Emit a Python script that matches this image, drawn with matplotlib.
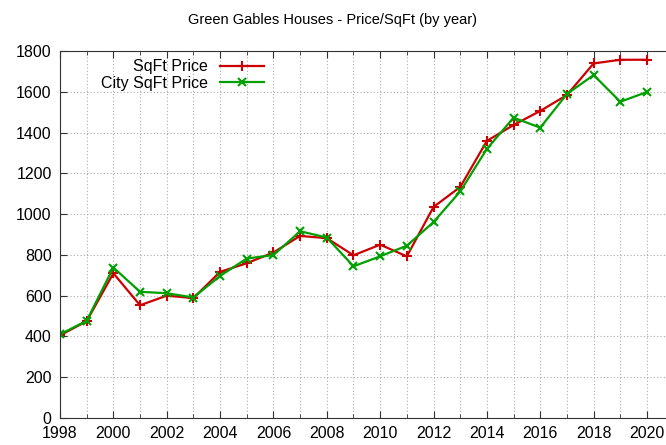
import matplotlib
matplotlib.use("Agg")
import matplotlib.pyplot as plt
from matplotlib.ticker import MultipleLocator

years = list(range(1998, 2021))
sqft_price = [405, 475, 710, 553, 600, 588, 717, 759, 812, 893, 882,
              798, 850, 793, 1035, 1133, 1359, 1437, 1506, 1584, 1739, 1757, 1757]
city_sqft_price = [410, 477, 738, 619, 612, 591, 697, 782, 799, 916, 885,
                   744, 793, 845, 961, 1111, 1320, 1473, 1424, 1589, 1682, 1551, 1599]
title = "Green Gables Houses - Price/SqFt (by year)"
labels = ["SqFt Price", "City SqFt Price"]

plt.rcParams['font.family'] = ['Liberation Sans', 'DejaVu Sans']

fig = plt.figure(figsize=(6.66, 4.45), dpi=100)
ax = fig.add_axes([60/666, 27/445, 1 - 60/666, 367/445])

ax.plot(years, sqft_price, color='#cc0000', lw=1.6, marker='+', ms=7, mew=1.5, label=labels[0])
ax.plot(years, city_sqft_price, color='#00a000', lw=1.6, marker='x', ms=5.5, mew=1.5, label=labels[1])

ax.set_xlim(1998, 1998 + 606/26.68)
ax.set_ylim(0, 1800)
ax.xaxis.set_major_locator(MultipleLocator(2))
ax.xaxis.set_minor_locator(MultipleLocator(1))
ax.yaxis.set_major_locator(MultipleLocator(200))
ax.grid(True, which='both', axis='x', color='#aaaaaa', ls=(0, (1, 2)), lw=0.8)
ax.grid(True, which='major', axis='y', color='#aaaaaa', ls=(0, (1, 2)), lw=0.8)
ax.set_axisbelow(True)
ax.tick_params(which='both', direction='in', top=True, right=False, labelsize=11.5, pad=6, color='#333333')
ax.tick_params(which='major', length=5)
ax.tick_params(which='minor', length=3)
for s in ['left', 'bottom', 'top']:
    ax.spines[s].set_color('#333333')
ax.spines['right'].set_visible(False)

fig.text(333/666, 1 - 20/445, title, ha='center', va='center', fontsize=10.5)

leg = ax.legend(loc='upper right', bbox_to_anchor=(270/666, 1 - 53/445), bbox_transform=fig.transFigure,
                frameon=False, markerfirst=False, handlelength=2.75, fontsize=11.5,
                labelspacing=0.1, handletextpad=0.75, borderaxespad=0)
for t in leg.get_texts():
    t.set_ha('right')

fig.savefig('out.png', dpi=100)
